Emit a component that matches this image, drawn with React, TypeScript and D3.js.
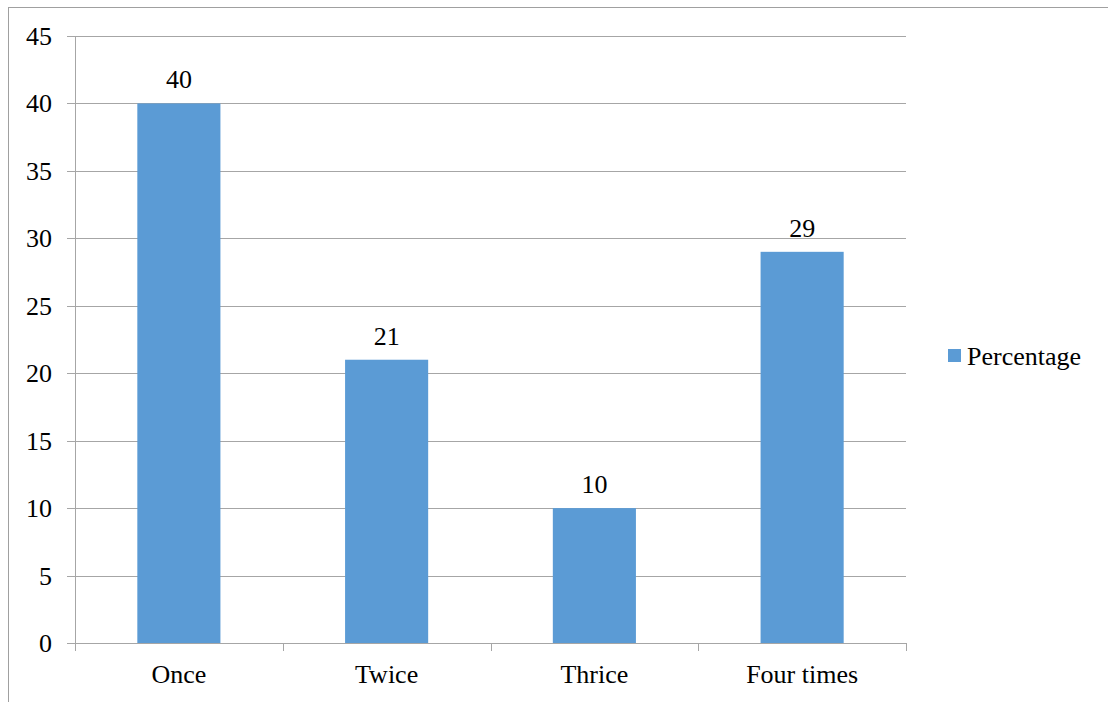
import React from "react";
import * as d3 from "d3";

const categories = ["Once", "Twice", "Thrice", "Four times"];
const percentage = [40, 21, 10, 29];
const yTicks = [0, 5, 10, 15, 20, 25, 30, 35, 40, 45];
const seriesName = "Percentage";

export default function App() {
  const W = 1108, H = 702;
  const left = 75, right = 906, top = 36, bottom = 643;
  const x = d3.scaleBand<string>().domain(categories).range([left, right]).paddingInner(0.6).paddingOuter(0.3);
  const xEdges = d3.scaleBand<string>().domain(categories).range([left, right]).padding(0);
  const y = d3.scaleLinear().domain([0, 45]).range([bottom, top]);
  const font = "Times New Roman, Liberation Serif, serif";
  const grid = "#a6a6a6";
  const barColor = "#5b9bd5";
  const edges = [...categories.map((c) => xEdges(c) as number), right];
  const ts = { fontFamily: font, fontSize: 26 } as React.CSSProperties;
  return (
    <svg width={W} height={H} style={{ position: "fixed", top: 0, left: 0 }}>
      <rect x={0} y={0} width={W} height={H} fill="#fff" />
      <rect x={8.5} y={7.5} width={1300} height={900} fill="none" stroke="#a0a0a0" strokeWidth={1} />
      {yTicks.map((t) => (
        <g key={t}>
          <line x1={67} x2={right} y1={Math.round(y(t)) + 0.5} y2={Math.round(y(t)) + 0.5} stroke={grid} strokeWidth={1} />
          <text x={52} y={y(t) + 9} textAnchor="end" style={ts} fill="#000">{String(t)}</text>
        </g>
      ))}
      <line x1={left + 0.5} x2={left + 0.5} y1={top} y2={bottom} stroke={grid} />
      {edges.map((e, i) => (
        <line key={i} x1={Math.round(e) + 0.5} x2={Math.round(e) + 0.5} y1={bottom} y2={bottom + 8} stroke={grid} />
      ))}
      {categories.map((c, i) => (
        <g key={c}>
          <rect x={x(c)} y={y(percentage[i])} width={x.bandwidth()} height={y(0) - y(percentage[i])} fill={barColor} />
          <text x={(x(c) as number) + x.bandwidth() / 2} y={y(percentage[i]) - 15} textAnchor="middle" style={ts} fill="#000">
            {String(percentage[i])}
          </text>
          <text x={(x(c) as number) + x.bandwidth() / 2} y={683} textAnchor="middle" style={ts} fill="#000">
            {c}
          </text>
        </g>
      ))}
      <rect x={948} y={349} width={13} height={13} fill={barColor} />
      <text x={967} y={365} style={ts} fill="#000">{seriesName}</text>
    </svg>
  );
}
